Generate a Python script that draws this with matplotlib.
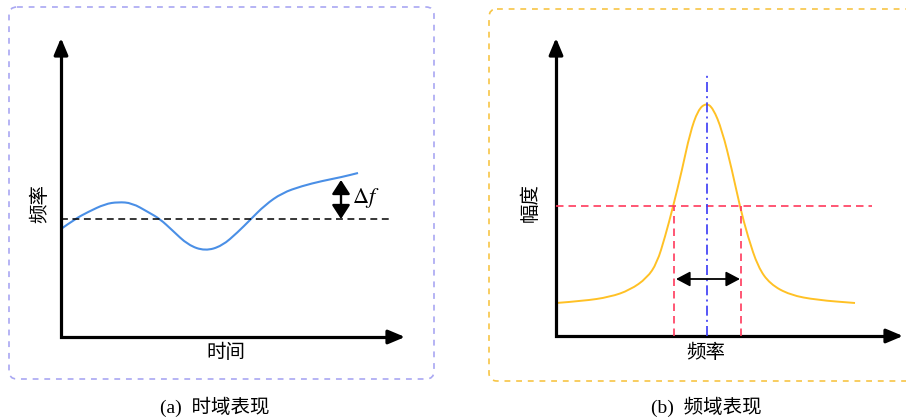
import numpy as np
import matplotlib
matplotlib.use("Agg")
import matplotlib.pyplot as plt
from matplotlib.path import Path
from matplotlib.patches import PathPatch, FancyBboxPatch

plt.rcParams['font.family'] = ['Noto Sans CJK SC', 'DejaVu Sans']
plt.rcParams['mathtext.fontset'] = 'stix'

W, H = 906, 419

# (a) 时域表现: 频率随时间的漂移 (单位: 像素, 原点为坐标轴交点)
time_t = [0, 14, 27, 44, 57, 71, 87, 99, 111, 127, 144, 161, 177, 189, 204, 221, 241, 261, 281, 297]
freq_f = [108, 118, 125, 133, 135, 134, 125, 118, 107, 92, 86, 91, 105, 117, 132, 144, 151, 156, 160, 164]
f_center = 118
df_top = 157
df_x = 280

# (b) 频域表现: 谱线
spec_x = [0, 27, 54, 74, 91, 101, 109, 117, 126, 134, 142, 150, 157, 166, 176, 184, 192, 202, 214, 234, 261, 299]
spec_y = [33, 35, 39, 46, 58, 73, 99, 129, 166, 203, 226, 233, 228, 206, 166, 129, 99, 69, 52, 41, 36, 33]
half_level = 130
half_left, half_right = 118, 185
peak_x = 151

captions = ["(a)  时域表现", "(b)  频域表现"]
panel_a_labels = ["时间", "频率"]
panel_b_labels = ["频率", "幅度"]


def smooth_path(xs, ys):
    # 二次贝塞尔, 经过相邻点中点
    pts = list(zip(xs, ys))
    verts = [pts[0]]
    codes = [Path.MOVETO]
    for i in range(1, len(pts) - 1):
        mid = ((pts[i][0] + pts[i + 1][0]) / 2, (pts[i][1] + pts[i + 1][1]) / 2)
        verts += [pts[i], mid]
        codes += [Path.CURVE3, Path.CURVE3]
    verts.append(pts[-1])
    codes.append(Path.LINETO)
    return Path(verts, codes)


def draw_axes_arrows(ax, xmax, ymax):
    ax.plot([0, 0, xmax - 12], [ymax - 12, 0, 0], color='black', lw=2.3,
            solid_joinstyle='miter', solid_capstyle='butt', clip_on=False)
    style = dict(arrowstyle='-|>,head_length=1.0,head_width=0.42', color='black',
                 lw=2.3, mutation_scale=10, shrinkA=0, shrinkB=0)
    ax.annotate('', xy=(xmax, 0), xytext=(xmax - 14, 0), arrowprops=style)
    ax.annotate('', xy=(0, ymax), xytext=(0, ymax - 14), arrowprops=style)


fig = plt.figure(figsize=(W / 100, H / 100), dpi=100)
bg = fig.add_axes([0, 0, 1, 1])
bg.set_xlim(0, W)
bg.set_ylim(H, 0)
bg.axis('off')

bg.add_patch(FancyBboxPatch((9, 7), 425, 372, boxstyle='round,pad=0,rounding_size=8',
                            fill=False, ec='#a9a7f2', lw=1.2, ls=(0, (3.5, 3.5))))
bg.add_patch(FancyBboxPatch((489, 9), 440, 372, boxstyle='round,pad=0,rounding_size=8',
                            fill=False, ec='#f7c545', lw=1.2, ls=(0, (3.5, 3.5))))
bg.text(215, 407, captions[0], ha='center', va='center', fontsize=14,
        family=['Liberation Serif', 'Noto Sans CJK SC'])
bg.text(706, 407, captions[1], ha='center', va='center', fontsize=14,
        family=['Liberation Serif', 'Noto Sans CJK SC'])

# ---- (a) ----
axa = fig.add_axes([61 / W, 1 - 337 / H, 344 / W, 299 / H])
axa.set_xlim(0, 344)
axa.set_ylim(0, 299)
axa.axis('off')
draw_axes_arrows(axa, 344, 299)
axa.add_patch(PathPatch(smooth_path(time_t, freq_f), fill=False, ec='#4a8fe6', lw=1.5))
axa.plot([0, 330], [f_center, f_center], color='black', lw=1.1, dashes=(4.5, 3))
axa.annotate('', xy=(df_x, df_top), xytext=(df_x, f_center),
             arrowprops=dict(arrowstyle='<|-|>,head_length=0.85,head_width=0.55', color='black',
                             lw=1.7, mutation_scale=10, shrinkA=0, shrinkB=0))
axa.text(df_x + 11, (df_top + f_center) / 2 + 2, r'$\Delta f$', fontsize=16, va='center', ha='left')
axa.text(165, -15, panel_a_labels[0], ha='center', va='center', fontsize=14)
axa.text(-21, 134, panel_a_labels[1], ha='center', va='center', fontsize=14, rotation=90)

# ---- (b) ----
axb = fig.add_axes([556 / W, 1 - 336 / H, 347 / W, 298 / H])
axb.set_xlim(0, 347)
axb.set_ylim(0, 298)
axb.axis('off')
draw_axes_arrows(axb, 347, 298)
axb.add_patch(PathPatch(smooth_path(spec_x, spec_y), fill=False, ec='#ffc125', lw=1.4))
red = '#ff3a5c'
axb.plot([0, 316], [half_level, half_level], color=red, lw=1.2, dashes=(4.5, 3))
axb.plot([half_left, half_left], [0, half_level], color=red, lw=1.2, dashes=(4.5, 3))
axb.plot([half_right, half_right], [0, half_level], color=red, lw=1.2, dashes=(4.5, 3))
axb.plot([peak_x, peak_x], [0, 263], color='#3a3af5', lw=1.2, dashes=(6, 2.5, 1.2, 2.5))
axb.annotate('', xy=(half_right - 1, 57), xytext=(half_left + 2, 57),
             arrowprops=dict(arrowstyle='<|-|>,head_length=0.85,head_width=0.45', color='black',
                             lw=1.3, mutation_scale=10, shrinkA=0, shrinkB=0))
axb.text(150, -16, panel_b_labels[0], ha='center', va='center', fontsize=14)
axb.text(-26, 133, panel_b_labels[1], ha='center', va='center', fontsize=14, rotation=90)

fig.savefig('out.png', dpi=100)
